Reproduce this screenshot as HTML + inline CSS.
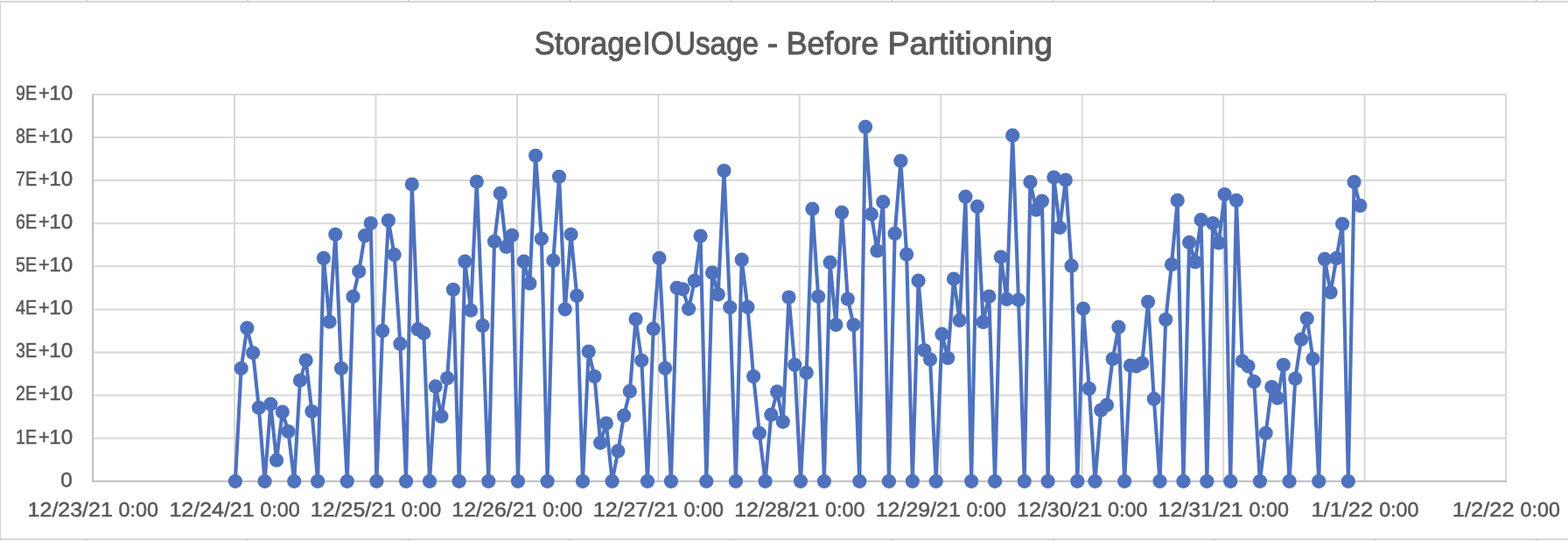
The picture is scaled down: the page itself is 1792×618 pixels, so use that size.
<!DOCTYPE html>
<html lang="en"><head><meta charset="utf-8"><title>StorageIOUsage - Before Partitioning</title>
<style>html,body{margin:0;padding:0;background:#fff;overflow:hidden}body{width:1792px;height:618px}svg{display:block}text{font-family:"Liberation Sans",sans-serif;fill:#595959;text-rendering:geometricPrecision}</style>
</head><body>
<svg width="1792" height="618" viewBox="0 0 1792 618">
<rect x="0" y="0" width="1792" height="618" fill="#ffffff"/>
<g fill="#d0d0d0">
<rect x="98.0" y="0" width="1.8" height="1.5"/>
<rect x="98.0" y="616.5" width="1.8" height="1.5"/>
<rect x="282.1" y="0" width="1.8" height="1.5"/>
<rect x="282.1" y="616.5" width="1.8" height="1.5"/>
<rect x="466.2" y="0" width="1.8" height="1.5"/>
<rect x="466.2" y="616.5" width="1.8" height="1.5"/>
<rect x="650.3" y="0" width="1.8" height="1.5"/>
<rect x="650.3" y="616.5" width="1.8" height="1.5"/>
<rect x="834.4" y="0" width="1.8" height="1.5"/>
<rect x="834.4" y="616.5" width="1.8" height="1.5"/>
<rect x="1018.5" y="0" width="1.8" height="1.5"/>
<rect x="1018.5" y="616.5" width="1.8" height="1.5"/>
<rect x="1202.6" y="0" width="1.8" height="1.5"/>
<rect x="1202.6" y="616.5" width="1.8" height="1.5"/>
<rect x="1386.7" y="0" width="1.8" height="1.5"/>
<rect x="1386.7" y="616.5" width="1.8" height="1.5"/>
<rect x="1570.8" y="0" width="1.8" height="1.5"/>
<rect x="1570.8" y="616.5" width="1.8" height="1.5"/>
<rect x="1754.9" y="0" width="1.8" height="1.5"/>
<rect x="1754.9" y="616.5" width="1.8" height="1.5"/>
</g>
<g fill="#d3d3d3">
<rect x="0" y="0.95" width="1792" height="1.85"/>
<rect x="0" y="0.95" width="1.0" height="616"/>
<rect x="0" y="615.1" width="1792" height="1.85"/>
</g>
<g stroke="#d9d9d9" stroke-width="2" fill="none">
<line x1="106.1" y1="500.70" x2="1722.0" y2="500.70"/>
<line x1="106.1" y1="451.60" x2="1722.0" y2="451.60"/>
<line x1="106.1" y1="402.50" x2="1722.0" y2="402.50"/>
<line x1="106.1" y1="353.40" x2="1722.0" y2="353.40"/>
<line x1="106.1" y1="304.30" x2="1722.0" y2="304.30"/>
<line x1="106.1" y1="255.20" x2="1722.0" y2="255.20"/>
<line x1="106.1" y1="206.10" x2="1722.0" y2="206.10"/>
<line x1="106.1" y1="157.00" x2="1722.0" y2="157.00"/>
<line x1="106.1" y1="107.90" x2="1722.0" y2="107.90"/>
<line x1="268.00" y1="107.15" x2="268.00" y2="549.80"/>
<line x1="429.45" y1="107.15" x2="429.45" y2="549.80"/>
<line x1="590.90" y1="107.15" x2="590.90" y2="549.80"/>
<line x1="752.35" y1="107.15" x2="752.35" y2="549.80"/>
<line x1="913.80" y1="107.15" x2="913.80" y2="549.80"/>
<line x1="1075.25" y1="107.15" x2="1075.25" y2="549.80"/>
<line x1="1236.70" y1="107.15" x2="1236.70" y2="549.80"/>
<line x1="1398.15" y1="107.15" x2="1398.15" y2="549.80"/>
<line x1="1559.60" y1="107.15" x2="1559.60" y2="549.80"/>
<line x1="1721.05" y1="107.15" x2="1721.05" y2="549.80"/>
</g>
<g stroke="#bcbcbc" stroke-width="1.9" fill="none">
<line x1="106.10" y1="107.15" x2="106.10" y2="550.60"/>
<line x1="105.30" y1="549.80" x2="1722.05" y2="549.80"/>
</g>
<polyline fill="none" stroke="#4e72be" stroke-width="4.1" stroke-linejoin="round" stroke-linecap="round" points="268.9,549.8 275.63,420.8 282.36,374.7 289.09,403 295.82,465.7 302.55,549.8 309.28,461.7 316.01,525.7 322.74,470.5 329.47,492.8 336.2,549.8 342.93,434.6 349.66,411.5 356.39,470 363.12,549.8 369.85,294.9 376.58,367.6 383.31,267.8 390.04,420.8 396.77,549.8 403.5,338.8 410.23,310 416.96,269.2 423.69,255.1 430.42,549.8 437.15,377.9 443.88,251.8 450.61,290.9 457.34,392.7 464.07,549.8 470.8,210.6 477.53,376.2 484.26,380.4 490.99,549.8 497.72,441.4 504.45,475.7 511.18,431.9 517.91,330.8 524.64,549.8 531.37,298.7 538.1,354.6 544.83,207.6 551.56,371.9 558.29,549.8 565.02,275.8 571.75,220.9 578.48,281.9 585.21,268.8 591.94,549.8 598.67,298.7 605.4,323.7 612.13,177.8 618.86,272.8 625.59,549.8 632.32,297.7 639.05,201.8 645.78,353.3 652.51,267.8 659.24,337.8 665.97,549.8 672.7,401.5 679.43,430 686.16,505.8 692.89,483.5 699.62,549.8 706.35,515.2 713.08,474.7 719.81,446.9 726.54,364.6 733.27,411.8 740,549.8 746.73,375.7 753.46,294.9 760.19,420.6 766.92,549.8 773.65,328.8 780.38,330.3 787.11,352.8 793.84,320.7 800.57,269.6 807.3,549.8 814.03,311.4 820.76,336.3 827.49,195.1 834.22,351.1 840.95,549.8 847.68,296.7 854.41,350.8 861.14,430.1 867.87,494.8 874.6,549.8 881.33,473.7 888.06,447.4 894.79,481.8 901.52,339.5 908.25,416.8 914.98,549.8 921.71,425.8 928.44,238.7 935.17,338.8 941.9,549.8 948.63,299.7 955.36,371.1 962.09,242.7 968.82,341.5 975.55,371.1 982.28,549.8 989.01,144.9 995.74,244.7 1002.47,286.4 1009.2,230.7 1015.93,549.8 1022.66,266.8 1029.39,183.8 1036.12,290.6 1042.85,549.8 1049.58,320.7 1056.31,400 1063.04,410.5 1069.77,549.8 1076.5,381.7 1083.23,409 1089.96,318.5 1096.69,365.9 1103.42,224.7 1110.15,549.8 1116.88,235.9 1123.61,367.9 1130.34,338.5 1137.07,549.8 1143.8,293.6 1150.53,341.8 1157.26,154.7 1163.99,342.5 1170.72,549.8 1177.45,207.9 1184.18,239.7 1190.91,229.7 1197.64,549.8 1204.37,202.6 1211.1,260 1217.83,205.6 1224.56,303.7 1231.29,549.8 1238.02,352.6 1244.75,443.9 1251.48,549.8 1258.21,468.5 1264.94,462.7 1271.67,410 1278.4,373.7 1285.13,549.8 1291.86,417.6 1298.59,418.3 1305.32,414.8 1312.05,344.8 1318.78,455.7 1325.51,549.8 1332.24,365.1 1338.97,302.2 1345.7,228.9 1352.43,549.8 1359.16,276.9 1365.89,299.2 1372.62,251.2 1379.35,549.8 1386.08,255.1 1392.81,277.4 1399.54,222.1 1406.27,549.8 1413,228.9 1419.73,412.5 1426.46,418.3 1433.19,435.9 1439.92,549.8 1446.65,494.8 1453.38,442.1 1460.11,454.7 1466.84,416.8 1473.57,549.8 1480.3,432.6 1487.03,387.7 1493.76,363.9 1500.49,410 1507.22,549.8 1513.95,295.9 1520.68,334 1527.41,294.9 1534.14,255.8 1540.87,549.8 1547.6,207.9 1554.33,234.9"/>
<g fill="#4e72be">
<circle cx="268.9" cy="549.8" r="8.1"/>
<circle cx="275.63" cy="420.8" r="8.1"/>
<circle cx="282.36" cy="374.7" r="8.1"/>
<circle cx="289.09" cy="403" r="8.1"/>
<circle cx="295.82" cy="465.7" r="8.1"/>
<circle cx="302.55" cy="549.8" r="8.1"/>
<circle cx="309.28" cy="461.7" r="8.1"/>
<circle cx="316.01" cy="525.7" r="8.1"/>
<circle cx="322.74" cy="470.5" r="8.1"/>
<circle cx="329.47" cy="492.8" r="8.1"/>
<circle cx="336.2" cy="549.8" r="8.1"/>
<circle cx="342.93" cy="434.6" r="8.1"/>
<circle cx="349.66" cy="411.5" r="8.1"/>
<circle cx="356.39" cy="470" r="8.1"/>
<circle cx="363.12" cy="549.8" r="8.1"/>
<circle cx="369.85" cy="294.9" r="8.1"/>
<circle cx="376.58" cy="367.6" r="8.1"/>
<circle cx="383.31" cy="267.8" r="8.1"/>
<circle cx="390.04" cy="420.8" r="8.1"/>
<circle cx="396.77" cy="549.8" r="8.1"/>
<circle cx="403.5" cy="338.8" r="8.1"/>
<circle cx="410.23" cy="310" r="8.1"/>
<circle cx="416.96" cy="269.2" r="8.1"/>
<circle cx="423.69" cy="255.1" r="8.1"/>
<circle cx="430.42" cy="549.8" r="8.1"/>
<circle cx="437.15" cy="377.9" r="8.1"/>
<circle cx="443.88" cy="251.8" r="8.1"/>
<circle cx="450.61" cy="290.9" r="8.1"/>
<circle cx="457.34" cy="392.7" r="8.1"/>
<circle cx="464.07" cy="549.8" r="8.1"/>
<circle cx="470.8" cy="210.6" r="8.1"/>
<circle cx="477.53" cy="376.2" r="8.1"/>
<circle cx="484.26" cy="380.4" r="8.1"/>
<circle cx="490.99" cy="549.8" r="8.1"/>
<circle cx="497.72" cy="441.4" r="8.1"/>
<circle cx="504.45" cy="475.7" r="8.1"/>
<circle cx="511.18" cy="431.9" r="8.1"/>
<circle cx="517.91" cy="330.8" r="8.1"/>
<circle cx="524.64" cy="549.8" r="8.1"/>
<circle cx="531.37" cy="298.7" r="8.1"/>
<circle cx="538.1" cy="354.6" r="8.1"/>
<circle cx="544.83" cy="207.6" r="8.1"/>
<circle cx="551.56" cy="371.9" r="8.1"/>
<circle cx="558.29" cy="549.8" r="8.1"/>
<circle cx="565.02" cy="275.8" r="8.1"/>
<circle cx="571.75" cy="220.9" r="8.1"/>
<circle cx="578.48" cy="281.9" r="8.1"/>
<circle cx="585.21" cy="268.8" r="8.1"/>
<circle cx="591.94" cy="549.8" r="8.1"/>
<circle cx="598.67" cy="298.7" r="8.1"/>
<circle cx="605.4" cy="323.7" r="8.1"/>
<circle cx="612.13" cy="177.8" r="8.1"/>
<circle cx="618.86" cy="272.8" r="8.1"/>
<circle cx="625.59" cy="549.8" r="8.1"/>
<circle cx="632.32" cy="297.7" r="8.1"/>
<circle cx="639.05" cy="201.8" r="8.1"/>
<circle cx="645.78" cy="353.3" r="8.1"/>
<circle cx="652.51" cy="267.8" r="8.1"/>
<circle cx="659.24" cy="337.8" r="8.1"/>
<circle cx="665.97" cy="549.8" r="8.1"/>
<circle cx="672.7" cy="401.5" r="8.1"/>
<circle cx="679.43" cy="430" r="8.1"/>
<circle cx="686.16" cy="505.8" r="8.1"/>
<circle cx="692.89" cy="483.5" r="8.1"/>
<circle cx="699.62" cy="549.8" r="8.1"/>
<circle cx="706.35" cy="515.2" r="8.1"/>
<circle cx="713.08" cy="474.7" r="8.1"/>
<circle cx="719.81" cy="446.9" r="8.1"/>
<circle cx="726.54" cy="364.6" r="8.1"/>
<circle cx="733.27" cy="411.8" r="8.1"/>
<circle cx="740" cy="549.8" r="8.1"/>
<circle cx="746.73" cy="375.7" r="8.1"/>
<circle cx="753.46" cy="294.9" r="8.1"/>
<circle cx="760.19" cy="420.6" r="8.1"/>
<circle cx="766.92" cy="549.8" r="8.1"/>
<circle cx="773.65" cy="328.8" r="8.1"/>
<circle cx="780.38" cy="330.3" r="8.1"/>
<circle cx="787.11" cy="352.8" r="8.1"/>
<circle cx="793.84" cy="320.7" r="8.1"/>
<circle cx="800.57" cy="269.6" r="8.1"/>
<circle cx="807.3" cy="549.8" r="8.1"/>
<circle cx="814.03" cy="311.4" r="8.1"/>
<circle cx="820.76" cy="336.3" r="8.1"/>
<circle cx="827.49" cy="195.1" r="8.1"/>
<circle cx="834.22" cy="351.1" r="8.1"/>
<circle cx="840.95" cy="549.8" r="8.1"/>
<circle cx="847.68" cy="296.7" r="8.1"/>
<circle cx="854.41" cy="350.8" r="8.1"/>
<circle cx="861.14" cy="430.1" r="8.1"/>
<circle cx="867.87" cy="494.8" r="8.1"/>
<circle cx="874.6" cy="549.8" r="8.1"/>
<circle cx="881.33" cy="473.7" r="8.1"/>
<circle cx="888.06" cy="447.4" r="8.1"/>
<circle cx="894.79" cy="481.8" r="8.1"/>
<circle cx="901.52" cy="339.5" r="8.1"/>
<circle cx="908.25" cy="416.8" r="8.1"/>
<circle cx="914.98" cy="549.8" r="8.1"/>
<circle cx="921.71" cy="425.8" r="8.1"/>
<circle cx="928.44" cy="238.7" r="8.1"/>
<circle cx="935.17" cy="338.8" r="8.1"/>
<circle cx="941.9" cy="549.8" r="8.1"/>
<circle cx="948.63" cy="299.7" r="8.1"/>
<circle cx="955.36" cy="371.1" r="8.1"/>
<circle cx="962.09" cy="242.7" r="8.1"/>
<circle cx="968.82" cy="341.5" r="8.1"/>
<circle cx="975.55" cy="371.1" r="8.1"/>
<circle cx="982.28" cy="549.8" r="8.1"/>
<circle cx="989.01" cy="144.9" r="8.1"/>
<circle cx="995.74" cy="244.7" r="8.1"/>
<circle cx="1002.47" cy="286.4" r="8.1"/>
<circle cx="1009.2" cy="230.7" r="8.1"/>
<circle cx="1015.93" cy="549.8" r="8.1"/>
<circle cx="1022.66" cy="266.8" r="8.1"/>
<circle cx="1029.39" cy="183.8" r="8.1"/>
<circle cx="1036.12" cy="290.6" r="8.1"/>
<circle cx="1042.85" cy="549.8" r="8.1"/>
<circle cx="1049.58" cy="320.7" r="8.1"/>
<circle cx="1056.31" cy="400" r="8.1"/>
<circle cx="1063.04" cy="410.5" r="8.1"/>
<circle cx="1069.77" cy="549.8" r="8.1"/>
<circle cx="1076.5" cy="381.7" r="8.1"/>
<circle cx="1083.23" cy="409" r="8.1"/>
<circle cx="1089.96" cy="318.5" r="8.1"/>
<circle cx="1096.69" cy="365.9" r="8.1"/>
<circle cx="1103.42" cy="224.7" r="8.1"/>
<circle cx="1110.15" cy="549.8" r="8.1"/>
<circle cx="1116.88" cy="235.9" r="8.1"/>
<circle cx="1123.61" cy="367.9" r="8.1"/>
<circle cx="1130.34" cy="338.5" r="8.1"/>
<circle cx="1137.07" cy="549.8" r="8.1"/>
<circle cx="1143.8" cy="293.6" r="8.1"/>
<circle cx="1150.53" cy="341.8" r="8.1"/>
<circle cx="1157.26" cy="154.7" r="8.1"/>
<circle cx="1163.99" cy="342.5" r="8.1"/>
<circle cx="1170.72" cy="549.8" r="8.1"/>
<circle cx="1177.45" cy="207.9" r="8.1"/>
<circle cx="1184.18" cy="239.7" r="8.1"/>
<circle cx="1190.91" cy="229.7" r="8.1"/>
<circle cx="1197.64" cy="549.8" r="8.1"/>
<circle cx="1204.37" cy="202.6" r="8.1"/>
<circle cx="1211.1" cy="260" r="8.1"/>
<circle cx="1217.83" cy="205.6" r="8.1"/>
<circle cx="1224.56" cy="303.7" r="8.1"/>
<circle cx="1231.29" cy="549.8" r="8.1"/>
<circle cx="1238.02" cy="352.6" r="8.1"/>
<circle cx="1244.75" cy="443.9" r="8.1"/>
<circle cx="1251.48" cy="549.8" r="8.1"/>
<circle cx="1258.21" cy="468.5" r="8.1"/>
<circle cx="1264.94" cy="462.7" r="8.1"/>
<circle cx="1271.67" cy="410" r="8.1"/>
<circle cx="1278.4" cy="373.7" r="8.1"/>
<circle cx="1285.13" cy="549.8" r="8.1"/>
<circle cx="1291.86" cy="417.6" r="8.1"/>
<circle cx="1298.59" cy="418.3" r="8.1"/>
<circle cx="1305.32" cy="414.8" r="8.1"/>
<circle cx="1312.05" cy="344.8" r="8.1"/>
<circle cx="1318.78" cy="455.7" r="8.1"/>
<circle cx="1325.51" cy="549.8" r="8.1"/>
<circle cx="1332.24" cy="365.1" r="8.1"/>
<circle cx="1338.97" cy="302.2" r="8.1"/>
<circle cx="1345.7" cy="228.9" r="8.1"/>
<circle cx="1352.43" cy="549.8" r="8.1"/>
<circle cx="1359.16" cy="276.9" r="8.1"/>
<circle cx="1365.89" cy="299.2" r="8.1"/>
<circle cx="1372.62" cy="251.2" r="8.1"/>
<circle cx="1379.35" cy="549.8" r="8.1"/>
<circle cx="1386.08" cy="255.1" r="8.1"/>
<circle cx="1392.81" cy="277.4" r="8.1"/>
<circle cx="1399.54" cy="222.1" r="8.1"/>
<circle cx="1406.27" cy="549.8" r="8.1"/>
<circle cx="1413" cy="228.9" r="8.1"/>
<circle cx="1419.73" cy="412.5" r="8.1"/>
<circle cx="1426.46" cy="418.3" r="8.1"/>
<circle cx="1433.19" cy="435.9" r="8.1"/>
<circle cx="1439.92" cy="549.8" r="8.1"/>
<circle cx="1446.65" cy="494.8" r="8.1"/>
<circle cx="1453.38" cy="442.1" r="8.1"/>
<circle cx="1460.11" cy="454.7" r="8.1"/>
<circle cx="1466.84" cy="416.8" r="8.1"/>
<circle cx="1473.57" cy="549.8" r="8.1"/>
<circle cx="1480.3" cy="432.6" r="8.1"/>
<circle cx="1487.03" cy="387.7" r="8.1"/>
<circle cx="1493.76" cy="363.9" r="8.1"/>
<circle cx="1500.49" cy="410" r="8.1"/>
<circle cx="1507.22" cy="549.8" r="8.1"/>
<circle cx="1513.95" cy="295.9" r="8.1"/>
<circle cx="1520.68" cy="334" r="8.1"/>
<circle cx="1527.41" cy="294.9" r="8.1"/>
<circle cx="1534.14" cy="255.8" r="8.1"/>
<circle cx="1540.87" cy="549.8" r="8.1"/>
<circle cx="1547.6" cy="207.9" r="8.1"/>
<circle cx="1554.33" cy="234.9" r="8.1"/>
</g>
<g font-size="36.8" stroke="#595959" stroke-width="1.00" stroke-linejoin="round">
<text y="61.7"><tspan x="610.75" textLength="122.34" lengthAdjust="spacingAndGlyphs">Storage</tspan><tspan x="734.23" textLength="35.95" lengthAdjust="spacingAndGlyphs">IO</tspan><tspan x="771.02" textLength="105.17" lengthAdjust="spacingAndGlyphs">Usage </tspan><tspan x="876.89" textLength="22.67" lengthAdjust="spacingAndGlyphs">- </tspan><tspan x="898.64" textLength="115.50" lengthAdjust="spacingAndGlyphs">Before </tspan><tspan x="1014.41" textLength="188.45" lengthAdjust="spacingAndGlyphs">Partitioning</tspan></text>
</g>
<g font-size="23.2" stroke="#595959" stroke-width="0.50" stroke-linejoin="round">
<text y="555.60"><tspan x="69.39" textLength="13.47" lengthAdjust="spacingAndGlyphs">0</tspan></text>
<text y="506.50"><tspan x="18.01" textLength="23.96" lengthAdjust="spacingAndGlyphs">1E</tspan><tspan x="43.88" textLength="12.71" lengthAdjust="spacingAndGlyphs">+</tspan><tspan x="56.24" textLength="26.90" lengthAdjust="spacingAndGlyphs">10</tspan></text>
<text y="457.40"><tspan x="18.01" textLength="23.96" lengthAdjust="spacingAndGlyphs">2E</tspan><tspan x="43.88" textLength="12.71" lengthAdjust="spacingAndGlyphs">+</tspan><tspan x="56.24" textLength="26.90" lengthAdjust="spacingAndGlyphs">10</tspan></text>
<text y="408.30"><tspan x="18.01" textLength="23.96" lengthAdjust="spacingAndGlyphs">3E</tspan><tspan x="43.88" textLength="12.71" lengthAdjust="spacingAndGlyphs">+</tspan><tspan x="56.24" textLength="26.90" lengthAdjust="spacingAndGlyphs">10</tspan></text>
<text y="359.20"><tspan x="18.01" textLength="23.96" lengthAdjust="spacingAndGlyphs">4E</tspan><tspan x="43.88" textLength="12.71" lengthAdjust="spacingAndGlyphs">+</tspan><tspan x="56.24" textLength="26.90" lengthAdjust="spacingAndGlyphs">10</tspan></text>
<text y="310.10"><tspan x="18.01" textLength="23.96" lengthAdjust="spacingAndGlyphs">5E</tspan><tspan x="43.88" textLength="12.71" lengthAdjust="spacingAndGlyphs">+</tspan><tspan x="56.24" textLength="26.90" lengthAdjust="spacingAndGlyphs">10</tspan></text>
<text y="261.00"><tspan x="18.01" textLength="23.96" lengthAdjust="spacingAndGlyphs">6E</tspan><tspan x="43.88" textLength="12.71" lengthAdjust="spacingAndGlyphs">+</tspan><tspan x="56.24" textLength="26.90" lengthAdjust="spacingAndGlyphs">10</tspan></text>
<text y="211.90"><tspan x="18.01" textLength="23.96" lengthAdjust="spacingAndGlyphs">7E</tspan><tspan x="43.88" textLength="12.71" lengthAdjust="spacingAndGlyphs">+</tspan><tspan x="56.24" textLength="26.90" lengthAdjust="spacingAndGlyphs">10</tspan></text>
<text y="162.80"><tspan x="18.01" textLength="23.96" lengthAdjust="spacingAndGlyphs">8E</tspan><tspan x="43.88" textLength="12.71" lengthAdjust="spacingAndGlyphs">+</tspan><tspan x="56.24" textLength="26.90" lengthAdjust="spacingAndGlyphs">10</tspan></text>
<text y="113.70"><tspan x="18.01" textLength="23.96" lengthAdjust="spacingAndGlyphs">9E</tspan><tspan x="43.88" textLength="12.71" lengthAdjust="spacingAndGlyphs">+</tspan><tspan x="56.24" textLength="26.90" lengthAdjust="spacingAndGlyphs">10</tspan></text>
<text y="589.8"><tspan x="31.64" textLength="104.11" lengthAdjust="spacingAndGlyphs">12/23/21 </tspan><tspan x="135.47" textLength="45.50" lengthAdjust="spacingAndGlyphs">0:00</tspan></text>
<text y="589.8"><tspan x="193.44" textLength="104.11" lengthAdjust="spacingAndGlyphs">12/24/21 </tspan><tspan x="297.27" textLength="45.50" lengthAdjust="spacingAndGlyphs">0:00</tspan></text>
<text y="589.8"><tspan x="354.89" textLength="104.11" lengthAdjust="spacingAndGlyphs">12/25/21 </tspan><tspan x="458.72" textLength="45.50" lengthAdjust="spacingAndGlyphs">0:00</tspan></text>
<text y="589.8"><tspan x="516.34" textLength="104.11" lengthAdjust="spacingAndGlyphs">12/26/21 </tspan><tspan x="620.17" textLength="45.50" lengthAdjust="spacingAndGlyphs">0:00</tspan></text>
<text y="589.8"><tspan x="677.79" textLength="104.11" lengthAdjust="spacingAndGlyphs">12/27/21 </tspan><tspan x="781.62" textLength="45.50" lengthAdjust="spacingAndGlyphs">0:00</tspan></text>
<text y="589.8"><tspan x="839.24" textLength="104.11" lengthAdjust="spacingAndGlyphs">12/28/21 </tspan><tspan x="943.07" textLength="45.50" lengthAdjust="spacingAndGlyphs">0:00</tspan></text>
<text y="589.8"><tspan x="1000.69" textLength="104.11" lengthAdjust="spacingAndGlyphs">12/29/21 </tspan><tspan x="1104.52" textLength="45.50" lengthAdjust="spacingAndGlyphs">0:00</tspan></text>
<text y="589.8"><tspan x="1162.14" textLength="104.11" lengthAdjust="spacingAndGlyphs">12/30/21 </tspan><tspan x="1265.97" textLength="45.50" lengthAdjust="spacingAndGlyphs">0:00</tspan></text>
<text y="589.8"><tspan x="1323.59" textLength="104.11" lengthAdjust="spacingAndGlyphs">12/31/21 </tspan><tspan x="1427.42" textLength="45.50" lengthAdjust="spacingAndGlyphs">0:00</tspan></text>
<text y="589.8"><tspan x="1498.41" textLength="77.87" lengthAdjust="spacingAndGlyphs">1/1/22 </tspan><tspan x="1576.17" textLength="45.29" lengthAdjust="spacingAndGlyphs">0:00</tspan></text>
<text y="589.8"><tspan x="1659.86" textLength="77.87" lengthAdjust="spacingAndGlyphs">1/2/22 </tspan><tspan x="1737.62" textLength="45.29" lengthAdjust="spacingAndGlyphs">0:00</tspan></text>
</g>
</svg>
</body></html>
